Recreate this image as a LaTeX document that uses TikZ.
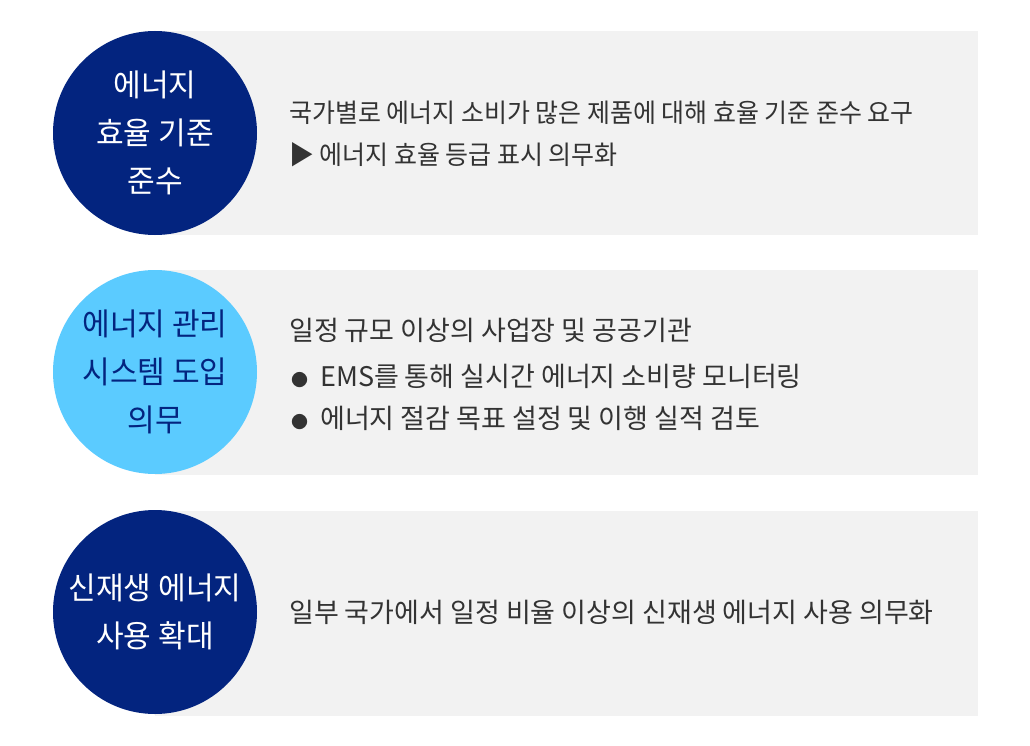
\documentclass[tikz,border=0pt]{standalone}
\usepackage{fontspec}
\setmainfont{Noto Sans CJK KR}
\definecolor{navy}{HTML}{03247F}
\definecolor{sky}{HTML}{5BCBFF}
\definecolor{panel}{HTML}{F2F2F2}
\definecolor{txt}{HTML}{333333}
\newcommand{\nx}[1]{\scalebox{0.96}[1]{#1}}
\newcommand{\cx}[1]{\scalebox{0.97}[1]{#1}}
\newcommand{\bul}{{\fontsize{17}{17}\selectfont ●}\hspace{12pt}}
\tikzset{
  panelbox/.style={fill=panel, draw=none},
  badge/.style={circle, minimum size=204pt, inner sep=0pt, align=center,
    font=\fontsize{31}{48}\selectfont},
  darkbadge/.style={badge, fill=navy, text=white},
  lightbadge/.style={badge, fill=sky, text=navy},
  body/.style={anchor=west, inner sep=0pt, align=left, text=txt,
    font=\fontsize{26}{42}\selectfont},
  bodybig/.style={body, font=\fontsize{27}{42}\selectfont},
}
\begin{document}
\begin{tikzpicture}[x=1pt,y=-1pt]
\useasboundingbox (0,0) rectangle (1030,746);
\fill[white] (0,0) rectangle (1030,746);
\fill[panelbox] (155,31) rectangle (978,235);
\fill[panelbox] (155,270) rectangle (978,475);
\fill[panelbox] (155,511) rectangle (978,716);

\node[darkbadge] (c1) at (155,133) {\cx{에너지}\\\cx{효율 기준}\\\cx{준수}};
\node[lightbadge] (c2) at (155,372) {\cx{에너지 관리}\\\cx{시스템 도입}\\\cx{의무}};
\node[darkbadge] (c3) at (155,612) {\cx{신재생 에너지}\\\cx{사용 확대}};

\node[body] (t1) at (289,134) {\nx{국가별로 에너지 소비가 많은 제품에 대해 효율 기준 준수 요구}\\\nx{▶ 에너지 효율 등급 표시 의무화}};
\node[bodybig] (t2a) at (289,330) {일정 규모 이상의 사업장 및 공공기관};
\node[bodybig] (t2b) at (291,376) {\bul EMS를 통해 실시간 에너지 소비량 모니터링};
\node[bodybig] (t2c) at (291,418) {\bul 에너지 절감 목표 설정 및 이행 실적 검토};
\node[bodybig] (t3) at (289,612) {일부 국가에서 일정 비율 이상의 신재생 에너지 사용 의무화};
\end{tikzpicture}
\end{document}
